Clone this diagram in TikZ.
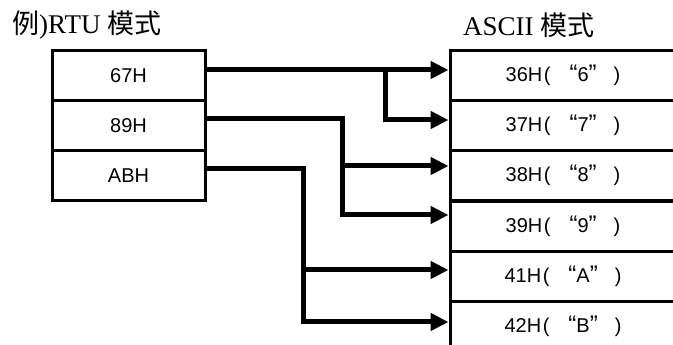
\documentclass[tikz,border=0pt]{standalone}
\usepackage{fontspec}
\setmainfont{Liberation Serif}
\setsansfont{Liberation Sans}
\newfontfamily\cjk{Noto Sans CJK SC}
\usetikzlibrary{arrows.meta}
\newcommand\qmark[1]{{\fontsize{24}{24}\selectfont #1}}
\newcommand\asc[2]{#1\hspace{1.5pt}(\hspace{19pt}\qmark{“}#2\qmark{”}\hspace{17pt})}
\tikzset{
  cell/.style={draw, line width=3pt, minimum width=153pt, minimum height=50pt, inner sep=0pt, font=\sffamily\fontsize{20}{22}\selectfont},
  rcell/.style={draw, line width=3pt, minimum width=226pt, minimum height=50.33pt, inner sep=0pt, font=\sffamily\fontsize{20}{22}\selectfont},
  title/.style={anchor=west, inner sep=0pt, font=\fontsize{27}{30}\selectfont},
  conn/.style={line width=5pt, -{Triangle[length=18pt,width=17pt]}}
}
\begin{document}
\begin{tikzpicture}[x=1pt,y=1pt]
\useasboundingbox (0,0) rectangle (673,345);
\fill[white] (0,0) rectangle (673,345);
\node[title] (t1) at (12,320) {{\cjk 例}){RTU} {\cjk 模式}};
\node[title] (t2) at (463,320) {ASCII {\cjk 模式}};
% left cells
\node[cell] (l1) at (128.5,269) {67H};
\node[cell] (l2) at (128.5,219) {89H};
\node[cell] (l3) at (128.5,169) {ABH};
% right cells
\node[rcell] (r1) at (563,269.8) {\asc{36H}{6}};
\node[rcell] (r2) at (563,219.5) {\asc{37H}{7}};
\node[rcell] (r3) at (563,169.2) {\asc{38H}{8}};
\node[rcell] (r4) at (563,118.8) {\asc{39H}{9}};
\node[rcell] (r5) at (563,68.5) {\asc{41H}{A}};
\node[rcell] (r6) at (563,18.2) {\asc{42H}{B}};
% coordinates
\coordinate (s1) at ([yshift=6pt]l1.east);
\coordinate (s2) at ([yshift=7pt]l2.east);
\coordinate (s3) at ([yshift=7pt]l3.east);
\coordinate (e1) at ([yshift=5.2pt]r1.west);
\coordinate (e2) at ([yshift=5.5pt]r2.west);
\coordinate (e3) at ([yshift=9.8pt]r3.west);
\coordinate (e4) at ([yshift=11.2pt]r4.west);
\coordinate (e5) at ([yshift=6.5pt]r5.west);
\coordinate (e6) at ([yshift=4.8pt]r6.west);
\coordinate (j1) at (385,275);
\coordinate (j2) at (342,0);
\coordinate (j3) at (303,0);
% connectors
\draw[conn] (s1) -- (e1);
\draw[conn] (j1) |- (e2);
\draw[conn] (s2) -| (j2 |- e4) -- (e4);
\draw[conn] (j2 |- e3) -- (e3);
\draw[conn] (s3) -| (j3 |- e6) -- (e6);
\draw[conn] (j3 |- e5) -- (e5);
\end{tikzpicture}
\end{document}
